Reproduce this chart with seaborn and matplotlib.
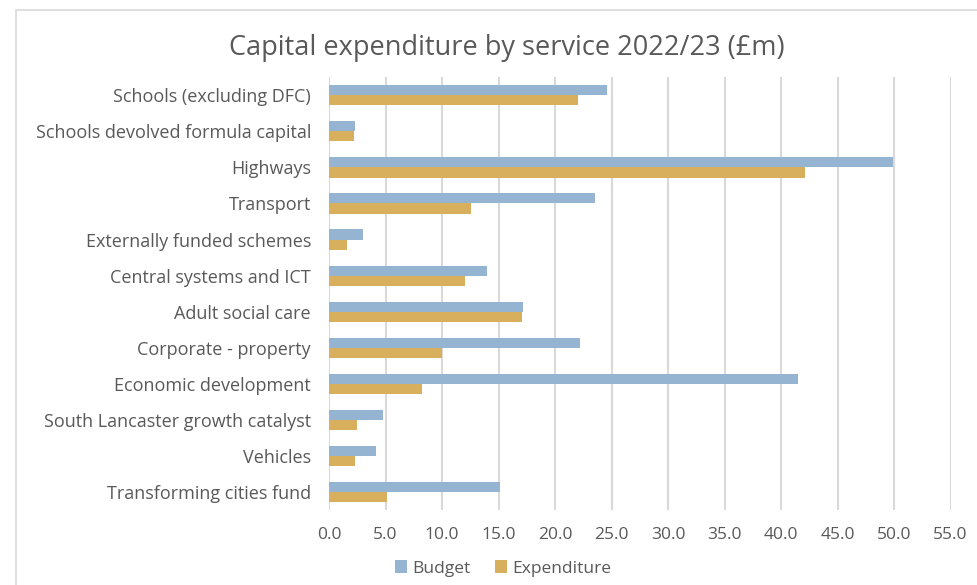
import pandas as pd
import seaborn as sns
import matplotlib.pyplot as plt
from matplotlib.patches import Rectangle

# Chart data (£m)
services = ["Schools (excluding DFC)", "Schools devolved formula capital", "Highways",
            "Transport", "Externally funded schemes", "Central systems and ICT",
            "Adult social care", "Corporate - property", "Economic development",
            "South Lancaster growth catalyst", "Vehicles", "Transforming cities fund"]
budget = [24.6, 2.3, 49.9, 23.5, 3.0, 14.0, 17.2, 22.2, 41.5, 4.8, 4.2, 15.1]
expenditure = [22.0, 2.2, 42.1, 12.6, 1.6, 12.0, 17.1, 10.0, 8.2, 2.5, 2.3, 5.1]
x_ticks = [0, 5, 10, 15, 20, 25, 30, 35, 40, 45, 50, 55]

df = pd.DataFrame({"service": services * 2,
                   "value": budget + expenditure,
                   "series": ["Budget"] * len(services) + ["Expenditure"] * len(services)})

sns.set_style("white")
plt.rcParams['font.family'] = ['Open Sans', 'DejaVu Sans']
text_col = "#595959"

fig = plt.figure(figsize=(9.78, 5.85), dpi=100)
ax = fig.add_axes([0.3364, 0.128, 0.9719 - 0.3364, 0.868 - 0.128])

# outer chart frame
fig.patches.append(Rectangle((16 / 978, -0.05), 1.2, (585 - 10) / 585 + 0.05,
                             transform=fig.transFigure, fill=False,
                             edgecolor="#D9D9D9", lw=1.2))

sns.barplot(data=df, y="service", x="value", hue="series", orient="h",
            palette={"Budget": "#94B4D2", "Expenditure": "#D8B05D"},
            width=0.56, gap=0, ax=ax, saturation=1, linewidth=0)

ax.set_xlim(0, 55)
ax.set_xticks(x_ticks)
ax.set_xticklabels([f"{t:.1f}" for t in x_ticks], color=text_col, fontsize=12.5)
ax.tick_params(axis="y", labelsize=13, labelcolor=text_col, length=0, pad=13)
ax.tick_params(axis="x", length=0, pad=12)
ax.set_xlabel("")
ax.set_ylabel("")
ax.grid(axis="x", color="#D9D9D9", lw=1.5)
ax.set_axisbelow(True)
for s in ax.spines.values():
    s.set_visible(False)

ax.set_title("Capital expenditure by service 2022/23 (£m)", fontsize=19.5,
             color=text_col, pad=16, x=(507 - 329) / (950.5 - 329))

handles, labels = ax.get_legend_handles_labels()
ax.legend(handles, labels, loc="upper center", bbox_to_anchor=(0.28, -0.08),
          ncol=2, frameon=False, handlelength=0.7, handleheight=0.7,
          handletextpad=0.3, columnspacing=1.4, labelcolor=text_col, fontsize=12.5)

fig.savefig("out.png", dpi=100)
